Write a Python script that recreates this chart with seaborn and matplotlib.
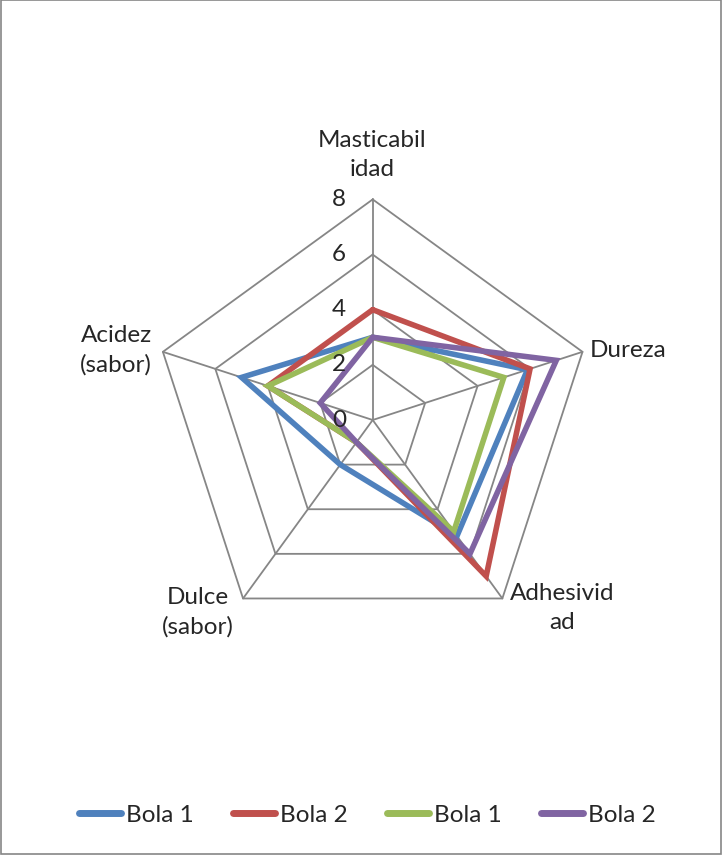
import numpy as np
import pandas as pd
import matplotlib
matplotlib.use("Agg")
import matplotlib.pyplot as plt
from matplotlib.patches import Rectangle
import seaborn as sns

categorias = ["Masticabil\nidad", "Dureza", "Adhesivid\nad", "Dulce\n(sabor)", "Acidez\n(sabor)"]
series = ["Bola 1", "Bola 2", "Bola 1", "Bola 2"]
bola1_a = [3, 5.9, 5.2, 2, 5]
bola2_a = [4, 6, 7, 1, 4]
bola1_b = [3, 5, 5, 1, 4]
bola2_b = [3, 7, 6, 1, 2]
ticks = [0, 2, 4, 6, 8]
colores = ["#4F81BD", "#C0504D", "#9BBB59", "#8064A2"]

valores = [bola1_a, bola2_a, bola1_b, bola2_b]
n = len(categorias)
ang = np.pi / 2 - 2 * np.pi * np.arange(n) / n  # empieza arriba, sentido horario
ang_c = np.append(ang, ang[0])

sns.set_theme(style="white")
plt.rcParams["font.family"] = ["Lato", "DejaVu Sans"]
fs = 17.5

W, H = 723, 857
fig = plt.figure(figsize=(W / 100, H / 100), dpi=100)
ax = fig.add_axes([0, 0, 1, 1])
cx, cy, rad = 372.7, 420, 220.6  # centro y radio en pixeles
esc = 8 / rad
ax.set_xlim(-cx * esc, (W - cx) * esc)
ax.set_ylim(-(H - cy) * esc, cy * esc)
ax.axis("off")

# rejilla pentagonal
gris = "#868686"
for t in ticks[1:]:
    ax.plot(t * np.cos(ang_c), t * np.sin(ang_c), color=gris, lw=1.3, zorder=1)
for a in ang:
    ax.plot([0, 8 * np.cos(a)], [0, 8 * np.sin(a)], color=gris, lw=1.3, zorder=1)

for t in ticks:
    ax.text(-26.7 * esc, t, str(t), ha="right", va="center", fontsize=fs, zorder=5)

# series
filas = []
for i, (nom, vals) in enumerate(zip(series, valores)):
    v = np.append(vals, vals[0])
    filas.append(pd.DataFrame({"x": v * np.cos(ang_c), "y": v * np.sin(ang_c),
                               "orden": np.arange(n + 1), "serie": i}))
df = pd.concat(filas, ignore_index=True)

handles = []
for i, nom in enumerate(series):
    sub = df[df["serie"] == i]
    sns.lineplot(data=sub, x="x", y="y", sort=False, estimator=None, color=colores[i],
                 lw=4.0, ax=ax, zorder=3 + i * 0.1, legend=False)
    ax.lines[-1].set_solid_joinstyle("miter")
    handles.append(plt.Line2D([], [], color=colores[i], lw=5, solid_capstyle="round", label=nom))

# etiquetas de categorias (posiciones en pixeles)
pos_lab = [(372, 155, "center"), (590, 350, "left"), (562, 608, "center"),
           (198, 612, "center"), (116, 350, "center")]
for lab, (px, py, ha) in zip(categorias, pos_lab):
    ax.text((px - cx) * esc, (cy - py) * esc, lab, ha=ha, va="center",
            multialignment="center", fontsize=fs, linespacing=1.45)

fig.legend(handles=handles, loc="center", bbox_to_anchor=(0.508, 1 - 815 / H), ncol=4,
           frameon=False, fontsize=fs, handlelength=1.75, handletextpad=0.2,
           columnspacing=1.6)

fig.patches.append(Rectangle((1 / W, 3 / H), 1 - 3 / W, 1 - 3 / H, transform=fig.transFigure,
                             fill=False, edgecolor=gris, lw=1.2))

fig.savefig("out.png", dpi=100)
